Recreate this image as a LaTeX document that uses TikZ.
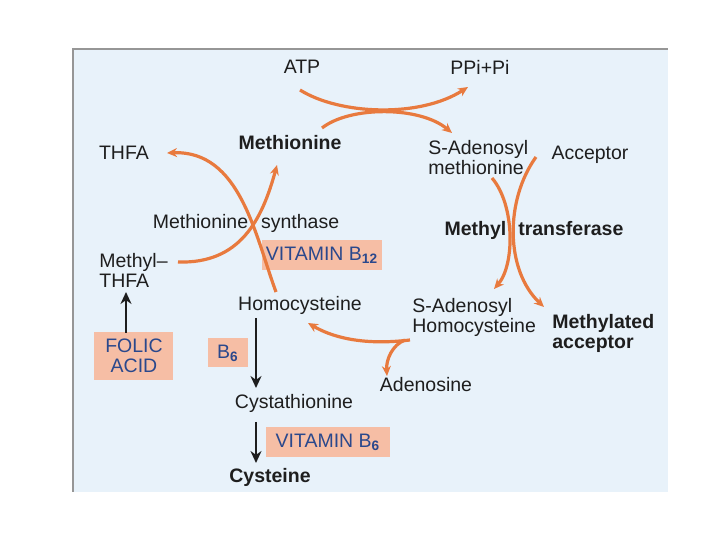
\documentclass[tikz,border=0pt]{standalone}
\usepackage{fontspec}
\usetikzlibrary{arrows.meta}
\setmainfont{Liberation Sans}
\definecolor{panel}{RGB}{232,242,250}
\definecolor{edge}{RGB}{150,150,150}
\definecolor{org}{RGB}{232,122,62}
\definecolor{boxfill}{RGB}{246,190,165}
\definecolor{boxtxt}{RGB}{42,72,140}
\definecolor{txt}{RGB}{30,30,30}
\newcommand\txtsz{\fontsize{9.75}{10}\selectfont}
\begin{document}
\begin{tikzpicture}[x=0.5pt,y=-0.5pt,>=stealth,
  every node/.style={font=\txtsz,text=txt,inner sep=0pt},
  bld/.style={font=\txtsz\bfseries},
  vit/.style={fill=boxfill,text=boxtxt,minimum height=15pt},
  orng/.style={-{Stealth[length=5pt,width=4.5pt]},draw=org,line width=1.6pt},
  blk/.style={-{Stealth[length=6pt,width=5.5pt]},draw=txt,line width=1.4pt}]
\fill[white] (0,0) rectangle (720,540);
\fill[panel] (73,49) rectangle (668,492);
\draw[edge,line width=1pt] (73,492) -- (73,49) -- (668,49);
% labels
\node (atp) at (302,67) {ATP};
\node (ppi) at (480,67) {PPi+Pi};
\node[bld] (met) at (290,143) {Methionine};
\node (thfa) at (124,153) {THFA};
\node[anchor=west,align=left] (sam) at (428,158) {S-Adenosyl\\methionine};
\node (acc) at (590,155) {Acceptor};
\node (msyn) at (246,223) {Methionine\hspace{6.5pt}synthase};
\node[bld] (mtr) at (534,230) {Methyl\hspace{6pt}transferase};
\node[anchor=west,align=left] (mthfa) at (99,270) {Methyl--\\THFA};
\node (hcy) at (300,305) {Homocysteine};
\node[anchor=west,align=left] (sah) at (412,317) {S-Adenosyl\\Homocysteine};
\node[bld,anchor=west,align=left] (macc) at (552,333) {Methylated\\acceptor};
\node (ado) at (426,385) {Adenosine};
\node (cyst) at (294,403) {Cystathionine};
\node[bld] (cys) at (270,477) {Cysteine};
% vitamin boxes
\node[vit,minimum width=60pt] (b12) at (322,255) {VITAMIN B\textsubscript{\bfseries 12}};
\node[vit,minimum width=39.5pt,minimum height=24pt,align=center] (folic) at (134,356) {FOLIC\\ACID};
\node[vit,minimum width=20pt,minimum height=14.5pt] (b6) at (228,353) {B\textsubscript{\bfseries 6}};
\node[vit,minimum width=62pt] (vb6) at (328,442) {VITAMIN B\textsubscript{\bfseries 6}};
% curve ends
\coordinate (atp-out) at (300,90);
\coordinate (ppi-in) at (468,87);
\coordinate (met-out) at (322,128);
\coordinate (sam-in) at (452,133);
\coordinate (mthfa-out) at (178,262);
\coordinate (met-in) at (277,165);
\coordinate (hcy-out) at (276,292);
\coordinate (thfa-in) at (167,153);
\coordinate (sam-out) at (492,178);
\coordinate (sah-in) at (494,289);
\coordinate (acc-out) at (536,157);
\coordinate (macc-in) at (544,307);
\coordinate (sah-out) at (410,340);
\coordinate (hcy-in) at (308,323);
\coordinate (ado-in) at (387,376);
\coordinate (hcy-down) at (256,318);
\coordinate (cyst-in) at (256,388);
\coordinate (cyst-out) at (256,422);
\coordinate (cys-in) at (256,463);
\coordinate (folic-out) at (126,333);
\coordinate (mthfa-in) at (126,292);
% orange arrows
\draw[orng] (atp-out) .. controls (340,115) and (420,118) .. (ppi-in);
\draw[orng] (met-out) .. controls (350,106) and (420,106) .. (sam-in);
\draw[orng] (mthfa-out) .. controls (240,264) and (262,220) .. (met-in);
\draw[orng] (hcy-out) .. controls (255,235) and (240,150) .. (thfa-in);
\draw[orng] (sam-out) .. controls (515,205) and (515,265) .. (sah-in);
\draw[orng] (acc-out) .. controls (505,200) and (505,270) .. (macc-in);
\draw[orng] (sah-out) .. controls (360,346) and (330,336) .. (hcy-in);
\draw[orng] (405,340) .. controls (392,345) and (386,360) .. (ado-in);
% black arrows
\draw[blk] (folic-out) -- (mthfa-in);
\draw[blk] (hcy-down) -- (cyst-in);
\draw[blk] (cyst-out) -- (cys-in);
\end{tikzpicture}
\end{document}
